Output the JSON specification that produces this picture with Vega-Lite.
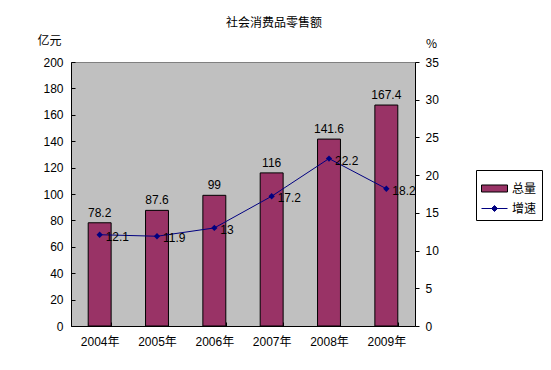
{
  "$schema": "https://vega.github.io/schema/vega-lite/v6.json",
  "autosize": "none",
  "width": 344,
  "height": 264,
  "padding": {"left": 71, "top": 62, "right": 136, "bottom": 44},
  "background": "white",
  "title": {"text": "社会消费品零售额", "frame": "group", "anchor": "middle", "dx": 31, "offset": 4, "fontSize": 12, "fontWeight": "normal", "font": "Noto Sans CJK SC", "color": "black"},
  "config": {
    "font": "Liberation Sans",
    "view": {"fill": "#C0C0C0", "stroke": "#808080", "strokeWidth": 1},
    "axis": {"grid": false, "domainColor": "black", "tickColor": "black", "labelColor": "black", "labelFontSize": 12, "labelFont": "Liberation Sans, Noto Sans CJK SC", "titleFontWeight": "normal", "titleFontSize": 12, "titleColor": "black", "titleFont": "Noto Sans CJK SC"}
  },
  "data": {"values": [
    {"year": "2004年", "total": 78.2, "growth": 12.1},
    {"year": "2005年", "total": 87.6, "growth": 11.9},
    {"year": "2006年", "total": 99, "growth": 13},
    {"year": "2007年", "total": 116, "growth": 17.2},
    {"year": "2008年", "total": 141.6, "growth": 22.2},
    {"year": "2009年", "total": 167.4, "growth": 18.2}
  ]},
  "encoding": {
    "x": {"field": "year", "type": "nominal", "sort": null, "scale": {"paddingInner": 0.6, "paddingOuter": 0.3},
      "axis": {"title": null, "labelAngle": 0, "tickBand": "extent", "tickSize": -4, "labelPadding": 14, "labelFont": "Liberation Sans, Noto Sans CJK SC"}}
  },
  "layer": [
    {
      "encoding": {
        "y": {"field": "total", "type": "quantitative", "scale": {"domain": [0, 200]},
          "axis": {"title": "亿元", "values": [0,20,40,60,80,100,120,140,160,180,200], "tickSize": -4, "labelPadding": 12, "titleAngle": 0, "titleAlign": "center", "titleBaseline": "middle", "titleX": -22, "titleY": -22}}
      },
      "layer": [
        {
          "mark": {"type": "bar", "stroke": "black", "strokeWidth": 1},
          "encoding": {
            "color": {"datum": "总量", "type": "nominal",
              "scale": {"domain": ["总量", "增速"], "range": ["#993366", "#000080"]},
              "legend": {"title": null, "orient": "none", "legendX": 405, "legendY": 108,
                "strokeColor": "black", "fillColor": "white", "padding": 5, "rowPadding": -7,
                "labelFontSize": 12, "labelFont": "Noto Sans CJK SC", "labelColor": "black", "labelOffset": 4,
                "symbolSize": 676, "symbolStrokeWidth": 1, "symbolOpacity": 1,
                "symbolType": {"expr": "datum.value === '总量' ? 'M-1,-0.27H1V0.27H-1Z' : 'M-1,0H1M0,-0.23L0.23,0L0,0.23L-0.23,0Z'"},
                "symbolStrokeColor": {"expr": "datum.value === '总量' ? 'black' : '#000080'"}
              }
            }
          }
        },
        {
          "mark": {"type": "text", "dy": -10, "fontSize": 12, "color": "black", "font": "Liberation Sans"},
          "encoding": {"text": {"field": "total", "type": "quantitative"}}
        }
      ]
    },
    {
      "encoding": {
        "y": {"field": "growth", "type": "quantitative", "scale": {"domain": [0, 35]},
          "axis": {"orient": "right", "title": "%", "values": [0,5,10,15,20,25,30,35], "tickSize": 4, "labelPadding": 6, "titleAngle": 0, "titleAlign": "center", "titleBaseline": "middle", "titleX": 16, "titleY": -19}}
      },
      "layer": [
        {
          "mark": {"type": "line", "strokeWidth": 1, "color": "#000080", "point": {"filled": true, "shape": "diamond", "size": 40, "color": "#000080"}}
        },
        {
          "mark": {"type": "text", "align": "left", "dx": 6, "dy": 2, "fontSize": 12, "color": "black", "font": "Liberation Sans"},
          "encoding": {"text": {"field": "growth", "type": "quantitative"}}
        }
      ]
    }
  ],
  "resolve": {"scale": {"y": "independent"}}
}
